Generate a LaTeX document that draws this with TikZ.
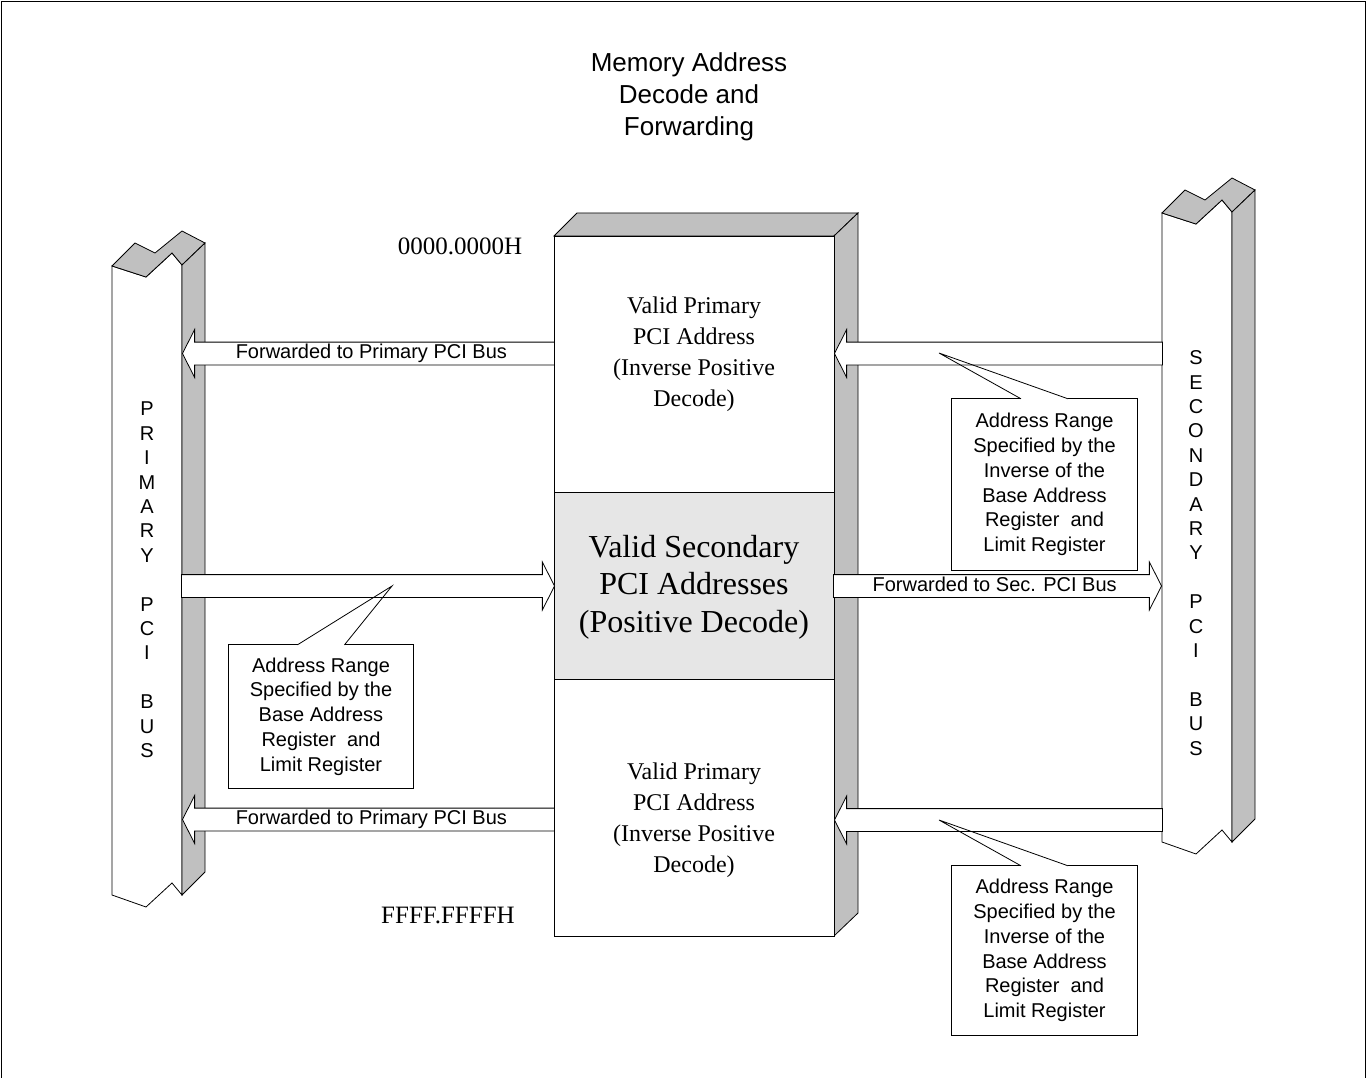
\documentclass[tikz,border=0pt]{standalone}
\usepackage{fontspec}
\setmainfont{Liberation Serif}
\setsansfont{Liberation Sans}
\usetikzlibrary{shapes.arrows}
\definecolor{bevel}{HTML}{C0C0C0}
\definecolor{band}{HTML}{E6E6E6}
\newcommand{\lblfont}{\sffamily\fontsize{20}{24.7}\selectfont}

\begin{document}
\begin{tikzpicture}[
  x=1pt, y=-1pt, line join=miter,
  edge/.style={draw=black, line width=0.8pt},
  face/.style={edge, fill=white},
  side/.style={edge, fill=bevel},
  fatarrow/.style={single arrow, edge, fill=white, anchor=tip,
    single arrow head extend=12.5pt, single arrow head indent=0pt,
    single arrow tip angle=126, inner xsep=0pt, inner ysep=1pt,
    text height=15pt, text depth=5pt, font=\lblfont},
  note/.style={align=center, font=\lblfont, fill=white, inner sep=0pt, minimum width=185},
  serifbig/.style={align=center, font=\rmfamily\fontsize{24}{31}\selectfont},
  buslabel/.style={align=center, font=\sffamily\fontsize{20}{24.4}\selectfont},
  pcibus/.pic={
    \path[face] (112,266) -- (146,277) -- (172,253) -- (182,265) -- (182,895)
      -- (172,883) -- (146,907) -- (112,895) -- cycle;
    \path[side] (112,266) -- (135,243) -- (155,253) -- (182,231) -- (205,243)
      -- (182,265) -- (172,253) -- (146,277) -- cycle;
    \path[side] (182,265) -- (205,243) -- (205,872) -- (182,895) -- cycle;
  }
]
\useasboundingbox (0,0) rectangle (1366,1078);
\draw[edge] (1,1100) -- (1,1) -- (1365,1) -- (1365,1100);

% title and address labels
\node[align=center, font=\sffamily\fontsize{26}{32}\selectfont] (title) at (689,97) {Memory Address\\Decode and\\Forwarding};
\node[font=\rmfamily\fontsize{25}{28}\selectfont] (topaddr) at (460,246) {0000.0000H};
\node[font=\rmfamily\fontsize{25}{28}\selectfont] (botaddr) at (448,915) {FFFF.FFFFH};

% the two buses
\pic at (0,0) {pcibus};
\pic at (1050,-53) {pcibus};
\node[buslabel] (primlbl) at (147,580) {P\\R\\I\\M\\A\\R\\Y\\~\\P\\C\\I\\~\\B\\U\\S};
\node[buslabel] (seclbl) at (1196,553) {S\\E\\C\\O\\N\\D\\A\\R\\Y\\~\\P\\C\\I\\~\\B\\U\\S};

% memory map block
\path[side] (554,236) -- (577,213) -- (858,213) -- (834,236) -- cycle;
\path[side] (834,236) -- (858,213) -- (858,913) -- (834,936) -- cycle;
\node[face, minimum width=280, minimum height=256, inner sep=0pt] (upper) at (694,364) {};
\node[face, fill=band, minimum width=280, minimum height=187, inner sep=0pt] (middle) at (694,585.5) {};
\node[face, minimum width=280, minimum height=257, inner sep=0pt] (lower) at (694,807.5) {};
\node[serifbig] (uppertxt) at (694,354) {Valid Primary\\PCI Address\\(Inverse Positive\\Decode)};
\node[align=center, font=\rmfamily\fontsize{32}{37.5}\selectfont] (middletxt) at (694,587) {Valid Secondary\\PCI Addresses\\(Positive Decode)};
\node[serifbig] (lowertxt) at (694,820) {Valid Primary\\PCI Address\\(Inverse Positive\\Decode)};

% forwarding arrows
\node[fatarrow, shape border rotate=180, minimum height=372] (toprimtop) at (182,353.5) {Forwarded to Primary PCI Bus};
\node[fatarrow, shape border rotate=180, minimum height=372] (toprimbot) at (182,819.5) {Forwarded to Primary PCI Bus};
\node[fatarrow, minimum height=373] (fromprim) at (555,586) {};
\node[fatarrow, minimum height=328] (tosec) at (1162,586) {Forwarded to Sec. PCI Bus};
\node[fatarrow, shape border rotate=180, minimum height=328] (fromsectop) at (834,353.5) {};
\node[fatarrow, shape border rotate=180, minimum height=328] (fromsecbot) at (834,820) {};

% callouts
\node[note, minimum height=143] (basenote) at (321,716.5) {Address Range\\Specified by the\\Base Address\\Register~ and\\Limit Register};
\coordinate (basetip) at (392,586);
\node[note, minimum height=171] (invnotetop) at (1044.5,484.5) {Address Range\\Specified by the\\Inverse of the\\Base Address\\Register~ and\\Limit Register};
\coordinate (invtiptop) at (939,353);
\node[note, minimum height=169] (invnotebot) at (1044.5,950.5) {Address Range\\Specified by the\\Inverse of the\\Base Address\\Register~ and\\Limit Register};
\coordinate (invtipbot) at (939,820);
\foreach \n/\t in {basenote/basetip, invnotetop/invtiptop, invnotebot/invtipbot}{
  \draw[edge] ([xshift=-23.5pt]\n.north) -- (\n.north west) -- (\n.south west)
    -- (\n.south east) -- (\n.north east) -- ([xshift=23.5pt]\n.north);
  \draw[edge] ([xshift=-23.5pt]\n.north) -- (\t) -- ([xshift=23.5pt]\n.north);
}
\end{tikzpicture}
\end{document}
